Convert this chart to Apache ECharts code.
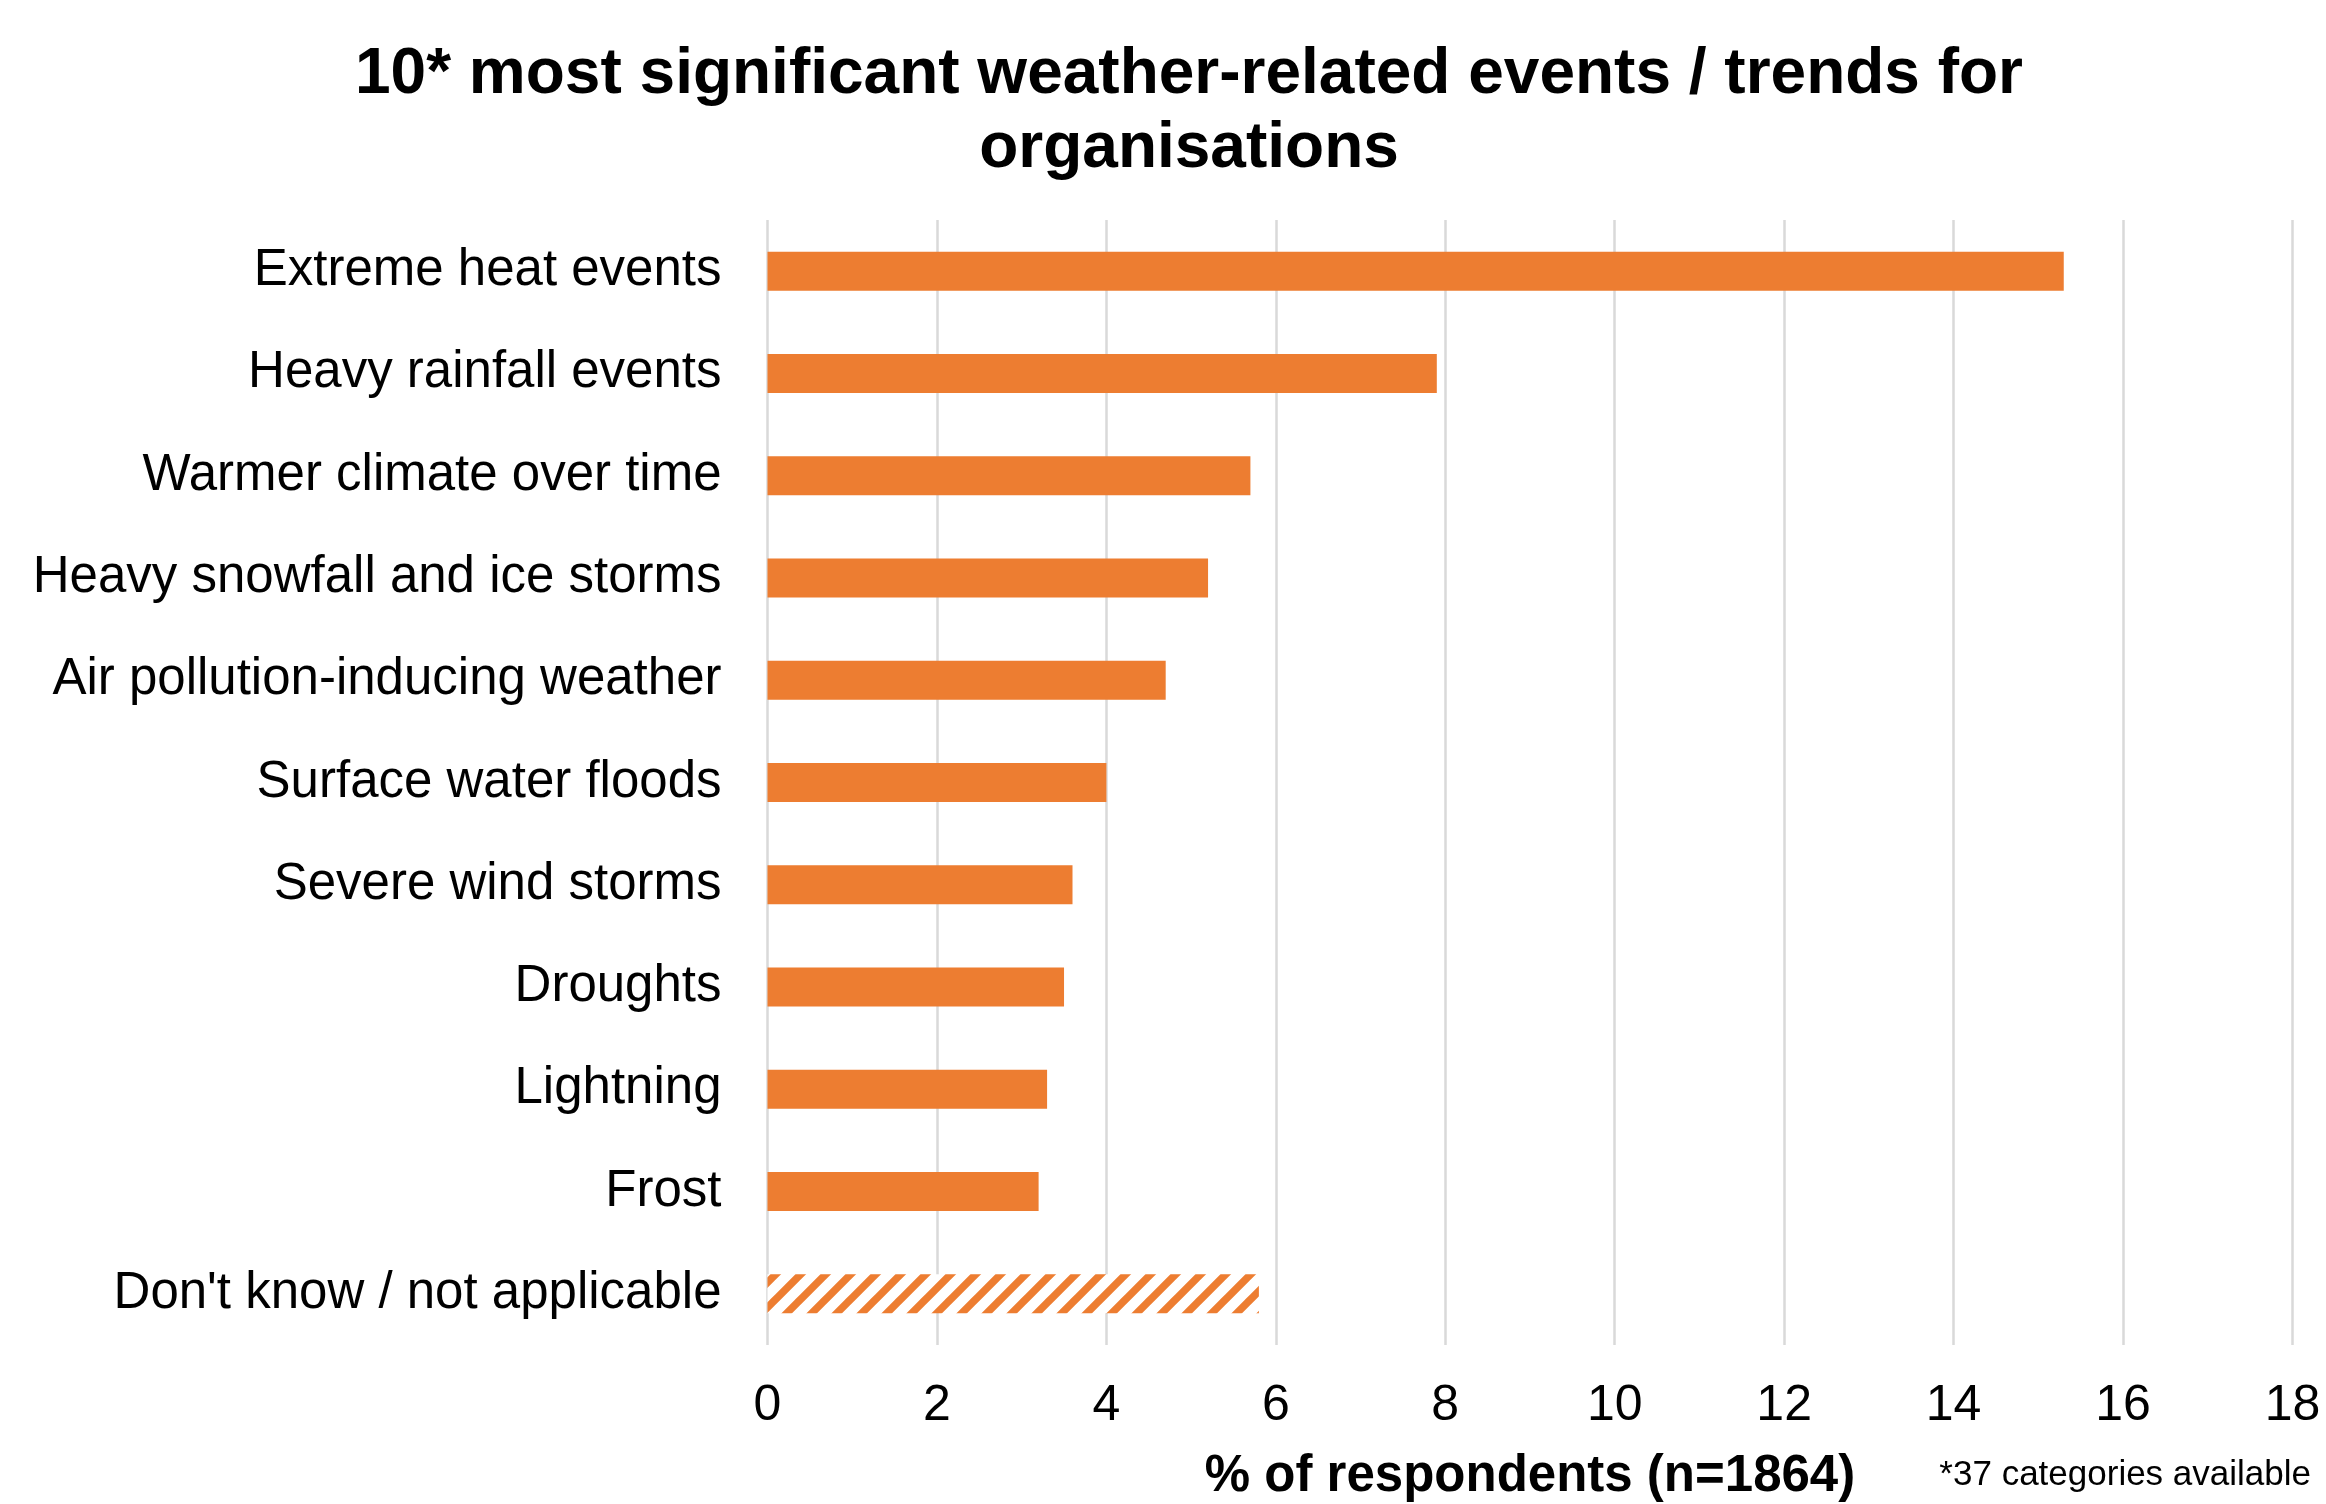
<!DOCTYPE html>
<html>
<head>
<meta charset="utf-8">
<title>Weather-related events / trends for organisations</title>
<script src="https://cdn.jsdelivr.net/npm/echarts@6/dist/echarts.min.js"></script>
<style>
  html, body { margin: 0; padding: 0; background: #ffffff; }
  #chart { width: 2326px; height: 1504px; }
</style>
</head>
<body>
<div id="chart"></div>
<script>
// Survey categories, top to bottom
const categories = [
  'Extreme heat events',
  'Heavy rainfall events',
  'Warmer climate over time',
  'Heavy snowfall and ice storms',
  'Air pollution-inducing weather',
  'Surface water floods',
  'Severe wind storms',
  'Droughts',
  'Lightning',
  'Frost',
  "Don't know / not applicable"
];

// Share of respondents (%) per category
const shares = [15.3, 7.9, 5.7, 5.2, 4.7, 4.0, 3.6, 3.5, 3.3, 3.2, 5.8];

// Categories drawn with a hatched fill instead of a solid one
const hatchedCategories = ["Don't know / not applicable"];

// Value axis ticks
const axisMin = 0;
const axisMax = 18;
const axisStep = 2;

const ORANGE = '#ED7D31';
const FONT = '"Liberation Sans", Arial, Helvetica, sans-serif';

// Diagonal stripe tile for the hatched bar
function makeHatch(color) {
  const size = 25;
  const c = document.createElement('canvas');
  c.width = size;
  c.height = size;
  const ctx = c.getContext('2d');
  ctx.fillStyle = '#ffffff';
  ctx.fillRect(0, 0, size, size);
  ctx.strokeStyle = color;
  ctx.lineWidth = 7.5;
  ctx.lineCap = 'square';
  for (let k = -1; k <= 1; k++) {
    ctx.beginPath();
    ctx.moveTo(k * size - 2, size + 2);
    ctx.lineTo(k * size + size + 2, -2);
    ctx.stroke();
  }
  return c;
}

const hatchFill = { image: makeHatch(ORANGE), repeat: 'repeat' };

const barData = categories.map((name, i) => {
  const item = { value: shares[i] };
  if (hatchedCategories.includes(name)) {
    item.itemStyle = { color: hatchFill };
  }
  return item;
});

const chart = echarts.init(document.getElementById('chart'), null, { renderer: 'canvas' });

chart.setOption({
  backgroundColor: '#ffffff',
  animation: false,
  title: {
    text: '10* most significant weather-related events / trends for\norganisations',
    left: 1184,
    top: 33,
    textAlign: 'center',
    textStyle: {
      fontFamily: FONT,
      fontSize: 64,
      fontWeight: 'bold',
      lineHeight: 74,
      color: '#000000'
    }
  },
  grid: {
    left: 767.5,
    right: 33.5,
    top: 220,
    bottom: 159,
    containLabel: false,
    outerBoundsMode: 'none'
  },
  xAxis: {
    type: 'value',
    min: axisMin,
    max: axisMax,
    interval: axisStep,
    name: '% of respondents (n=1864)',
    nameLocation: 'middle',
    nameGap: 106,
    nameTextStyle: {
      fontFamily: FONT,
      fontSize: 51,
      fontWeight: 'bold',
      color: '#000000'
    },
    axisLine: { show: false },
    axisTick: { show: false },
    axisLabel: {
      fontFamily: FONT,
      fontSize: 50,
      color: '#000000',
      margin: 36
    },
    splitLine: {
      show: true,
      lineStyle: { color: '#d9d9d9', width: 2.5 }
    }
  },
  yAxis: {
    type: 'category',
    data: categories,
    inverse: true,
    axisLine: { show: false },
    axisTick: { show: false },
    splitLine: { show: false },
    axisLabel: {
      fontFamily: FONT,
      fontSize: 51,
      color: '#000000',
      margin: 46
    }
  },
  series: [{
    type: 'bar',
    data: barData,
    barWidth: 39,
    itemStyle: { color: ORANGE },
    silent: true
  }],
  graphic: [{
    type: 'text',
    right: 15,
    top: 1458,
    style: {
      text: '*37 categories available',
      fontFamily: FONT,
      fontSize: 35,
      fill: '#000000'
    }
  }]
});
</script>
</body>
</html>
